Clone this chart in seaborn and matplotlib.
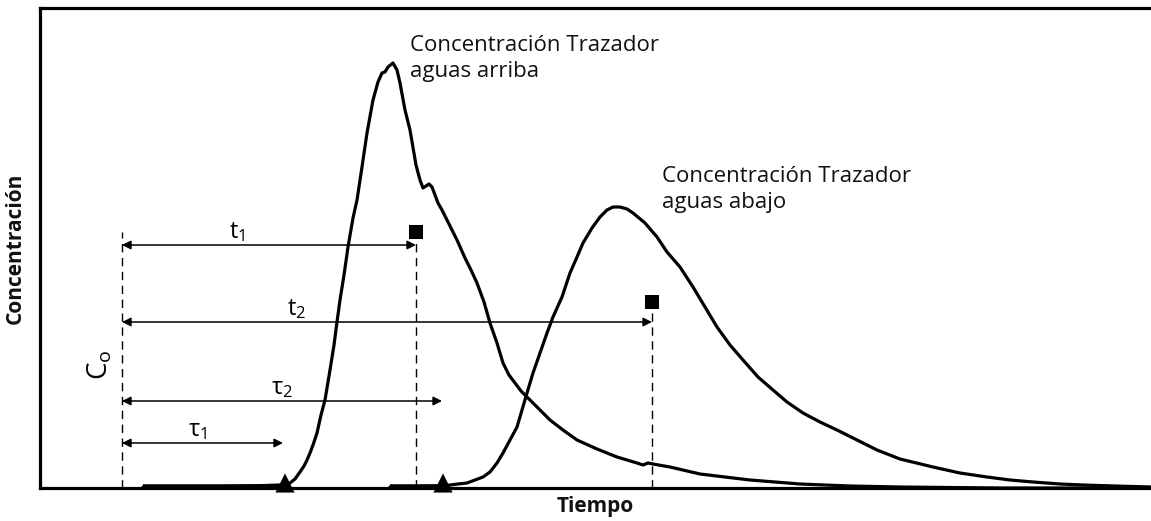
import numpy as np
import pandas as pd
import matplotlib
matplotlib.use("Agg")
import matplotlib.pyplot as plt
import seaborn as sns

# upstream tracer curve (time, concentration)
t_up = [143, 200, 250, 280, 285, 290, 295, 300, 304, 307, 310, 313, 317, 321, 325,
        330, 334, 337, 340, 344, 348, 353, 357, 362, 367, 373, 378, 382, 385, 388,
        393, 397, 400, 405, 410, 416, 420, 423, 426, 429, 432, 435, 438, 442, 447,
        457, 465, 471, 477, 484, 490, 497, 503, 509, 515, 521, 527, 538, 550, 563,
        577, 597, 617, 637, 643, 648, 653, 670, 700, 750, 800, 850, 900, 1000, 1151]
c_up = [1, 1, 2, 3, 3, 5, 9, 16, 22, 28, 35, 43, 55, 73, 88,
        118, 143, 166, 188, 213, 241, 270, 288, 321, 355, 388, 406, 415, 416, 421,
        425, 418, 405, 378, 358, 323, 308, 300, 302, 304, 301, 293, 285, 278, 268,
        248, 230, 218, 205, 186, 165, 145, 125, 113, 105, 97, 91, 80, 68, 58,
        48, 39, 31, 25, 23, 25, 24, 21, 14, 8, 4, 2, 1, 0, 0]

# downstream tracer curve
t_down = [390, 443, 450, 458, 467, 475, 483, 490, 497, 503, 510, 517, 522, 527, 533,
          540, 547, 553, 562, 570, 577, 583, 592, 600, 607, 613, 620, 627, 633, 645,
          657, 667, 680, 693, 705, 717, 730, 743, 758, 773, 787, 803, 820, 837, 857,
          877, 900, 933, 960, 987, 1010, 1033, 1060, 1083, 1115, 1151]
c_down = [1, 2, 3, 4, 5, 8, 11, 16, 25, 35, 48, 61, 78, 95, 115,
          135, 155, 171, 191, 215, 231, 245, 260, 271, 278, 281, 281, 279, 275, 265,
          251, 236, 221, 201, 181, 161, 143, 128, 111, 98, 86, 75, 66, 58, 48,
          38, 29, 21, 15, 11, 8, 6, 4, 3, 2, 1]

# characteristic times
t0 = 122                      # injection (C_o)
arrival = [285, 443]          # first arrival, triangles
start_flat = [143, 390]       # start of flat baseline segments
centroid_t = [416, 652]       # t1, t2 (squares)
centroid_c = [256, 186]
dash_top = [256, 248, 178]    # tops of dashed lines at t0, t1, t2

# arrows: label, end time, level, label position
arrow_labels = [r"$\mathregular{t_1}$", r"$\mathregular{t_2}$",
                r"$\mathregular{τ_2}$", r"$\mathregular{τ_1}$"]
arrow_end = [416, 652, 442, 283]
arrow_level = [243, 166, 87, 45]
label_x = [237, 297, 282, 198]
label_y = [250, 173, 94, 52]

sns.set_theme(style="white")
plt.rcParams["font.family"] = ["Open Sans", "DejaVu Sans"]
plt.rcParams["mathtext.fontset"] = "custom"
plt.rcParams["mathtext.rm"] = "Open Sans"

fig = plt.figure(figsize=(11.51, 5.21), dpi=100)
ax = fig.add_axes([40 / 1151, 33 / 521, 1111 / 1151, 480 / 521])

up = pd.DataFrame({"t": t_up, "c": c_up})
down = pd.DataFrame({"t": t_down, "c": c_down})
sns.lineplot(data=up, x="t", y="c", color="black", lw=2.3, estimator=None, ax=ax)
sns.lineplot(data=down, x="t", y="c", color="black", lw=2.3, estimator=None, ax=ax)

# thick baseline before arrival
for s, a in zip(start_flat, arrival):
    ax.plot([s, a], [1.5, 1.5], color="black", lw=4, solid_capstyle="butt")

# dashed verticals
for x, top in zip([t0] + centroid_t, dash_top):
    ax.plot([x, x], [0, top], color="black", lw=1.0, ls=(0, (6, 4)))

# arrows
for lab, end, lev, lx, ly in zip(arrow_labels, arrow_end, arrow_level, label_x, label_y):
    ax.annotate("", xy=(end, lev), xytext=(t0, lev),
                arrowprops=dict(arrowstyle="<|-|>", color="black", lw=1.1,
                                mutation_scale=13, shrinkA=0, shrinkB=0))
    ax.text(lx, ly, lab, fontsize=17, ha="center", va="baseline", color="black")

ax.text(100, 123, r"$\mathregular{C_o}$", fontsize=20, rotation=90,
        ha="center", va="center", color="black")

sns.scatterplot(x=centroid_t, y=centroid_c, marker="s", s=95, color="black",
                edgecolor="none", ax=ax, zorder=5)
sns.scatterplot(x=arrival, y=[5, 5], marker="^", s=190, color="black",
                edgecolor="none", ax=ax, zorder=5, clip_on=False)

# va="baseline" places the last line's baseline
ax.text(410, 411, "Concentración Trazador\naguas arriba", fontsize=16,
        ha="left", va="baseline", linespacing=1.3, color="#111111")
ax.text(662, 280, "Concentración Trazador\naguas abajo", fontsize=16,
        ha="left", va="baseline", linespacing=1.3, color="#111111")

ax.set_xlim(40, 1151)
ax.set_ylim(0, 480)
ax.set_xticks([])
ax.set_yticks([])
ax.set_xlabel("Tiempo", fontsize=15, fontweight="bold", labelpad=6, color="#111111")
ax.set_ylabel("Concentración", fontsize=15, fontweight="bold", labelpad=10, color="#111111")
for side in ["left", "top", "bottom"]:
    ax.spines[side].set_color("black")
    ax.spines[side].set_linewidth(2.3)
ax.spines["right"].set_visible(False)

fig.savefig("out.png", dpi=100)
